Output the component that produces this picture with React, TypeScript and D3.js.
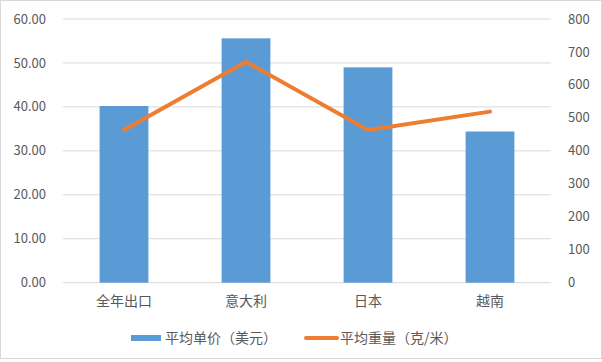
import React from 'react';
import * as d3 from 'd3';

const categories = ['全年出口', '意大利', '日本', '越南'];
const avgPrice = [40.2, 55.6, 49.0, 34.4];
const avgWeight = [463, 670, 463, 519];
const leftTicks = [0, 10, 20, 30, 40, 50, 60];
const rightTicks = [0, 100, 200, 300, 400, 500, 600, 700, 800];
const seriesNames = ['平均单价（美元）', '平均重量（克/米）'];

const W = 602;
const H = 362;
const plot = { left: 63, right: 551, top: 19, bottom: 282.7 };
const font = '"Noto Sans CJK SC", "Microsoft YaHei", sans-serif';
const textColor = '#595959';

const App: React.FC = () => {
  const x = d3.scaleBand().domain(categories).range([plot.left, plot.right]);
  const yL = d3.scaleLinear().domain([0, 60]).range([plot.bottom, plot.top]);
  const yR = d3.scaleLinear().domain([0, 800]).range([plot.bottom, plot.top]);
  const barW = x.bandwidth() * 0.4;
  const cx = (c: string) => (x(c) as number) + x.bandwidth() / 2;

  const line = d3
    .line<number>()
    .x((_, i) => cx(categories[i]))
    .y(d => yR(d));

  return (
    <svg
      width={W}
      height={H}
      style={{ position: 'absolute', left: 0, top: 0, background: '#fff' }}
    >
      <rect x={0.5} y={0.5} width={W - 1} height={H - 4} fill="white" stroke="#d9d9d9" />
      {leftTicks.map(t => (
        <g key={t}>
          <line x1={plot.left} x2={plot.right} y1={yL(t)} y2={yL(t)} stroke="#d9d9d9" strokeWidth={1} />
          <text x={46} y={yL(t)} dy="0.35em" textAnchor="end" fontFamily={font} fontSize={13} fill={textColor}>
            {t.toFixed(2)}
          </text>
        </g>
      ))}
      {rightTicks.map(t => (
        <text key={t} x={568} y={yR(t)} dy="0.35em" fontFamily={font} fontSize={13} fill={textColor}>
          {t}
        </text>
      ))}
      {categories.map((c, i) => (
        <rect
          key={c}
          x={cx(c) - barW / 2}
          y={yL(avgPrice[i])}
          width={barW}
          height={plot.bottom - yL(avgPrice[i])}
          fill="#5B9BD5"
        />
      ))}
      <path d={line(avgWeight) || ''} fill="none" stroke="#ED7D31" strokeWidth={4} strokeLinejoin="round" strokeLinecap="round" />
      {categories.map(c => (
        <text key={c} x={cx(c)} y={301} dy="0.35em" textAnchor="middle" fontFamily={font} fontSize={14} fill={textColor}>
          {c}
        </text>
      ))}
      <rect x={131} y={335} width={30} height={6} fill="#5B9BD5" />
      <text x={165} y={338} dy="0.35em" fontFamily={font} fontSize={14} fill={textColor}>
        {seriesNames[0]}
      </text>
      <line x1={306} x2={337} y1={338} y2={338} stroke="#ED7D31" strokeWidth={4} strokeLinecap="round" />
      <text x={340} y={338} dy="0.35em" fontFamily={font} fontSize={14} fill={textColor}>
        {seriesNames[1]}
      </text>
    </svg>
  );
};

export default App;
